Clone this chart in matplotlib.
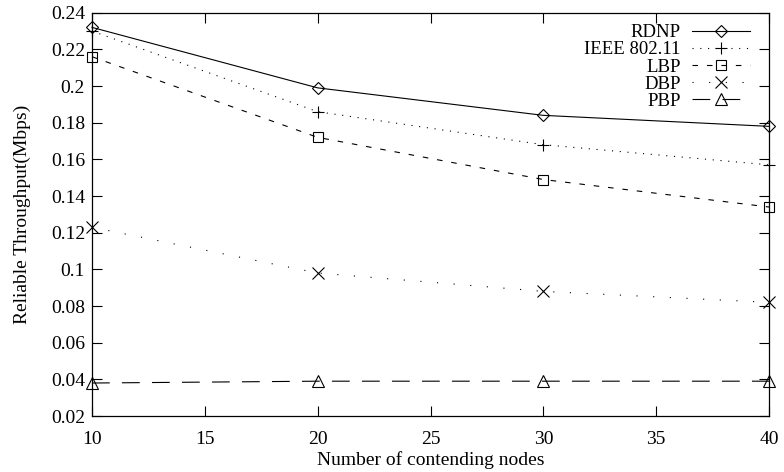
import matplotlib.pyplot as plt
from matplotlib.ticker import FormatStrFormatter

nodes = [10, 20, 30, 40]
rdnp = [0.232, 0.199, 0.184, 0.178]
ieee = [0.230, 0.186, 0.168, 0.157]
lbp = [0.216, 0.172, 0.149, 0.134]
dbp = [0.123, 0.098, 0.088, 0.082]
pbp = [0.038, 0.039, 0.039, 0.039]

plt.rcParams['font.family'] = ['Liberation Serif', 'DejaVu Serif']

fig = plt.figure(figsize=(7.84, 4.72), dpi=100)
ax = fig.add_axes([0.1173, 0.1186, 0.8637, 0.8545])

# shared style, gnuplot-like hollow black points
style = dict(color='black', lw=0.8, markerfacecolor='none',
             markeredgecolor='black', markeredgewidth=0.8, clip_on=False)

ax.plot(nodes, rdnp, marker='D', markersize=6, linestyle='-', label='RDNP', **style)
ax.plot(nodes, ieee, marker='+', markersize=9, linestyle=(0, (1, 6)),
        label='IEEE 802.11', **style)
ax.plot(nodes, lbp, marker='s', markersize=7, linestyle=(0, (5, 8)), label='LBP', **style)
ax.plot(nodes, dbp, marker='x', markersize=9, linestyle=(0, (1, 14)), label='DBP', **style)
ax.plot(nodes, pbp, marker='^', markersize=9, linestyle=(0, (16, 11)), label='PBP', **style)

ax.set_xlim(10, 40)
ax.set_ylim(0.02, 0.24)
ax.set_xticks(range(10, 41, 5))
ax.set_yticks([0.02 * i for i in range(1, 13)])
ax.yaxis.set_major_formatter(FormatStrFormatter('%g'))
ax.tick_params(direction='in', length=7, width=0.8, top=True, right=True,
               labelsize=14)
ax.tick_params(axis='x', pad=11)
ax.tick_params(axis='y', pad=5)
for s in ax.spines.values():
    s.set_linewidth(0.9)

ax.set_xlabel('Number of contending nodes', fontsize=14, labelpad=2)
ax.set_ylabel('Reliable Throughput(Mbps)', fontsize=14, labelpad=14)

ax.legend(loc='upper right', frameon=False, markerfirst=False, fontsize=13.5,
          labelspacing=0, handlelength=3.1, handletextpad=0.6,
          borderaxespad=0, bbox_to_anchor=(0.983, 0.99))

fig.savefig('out.png', dpi=100)
